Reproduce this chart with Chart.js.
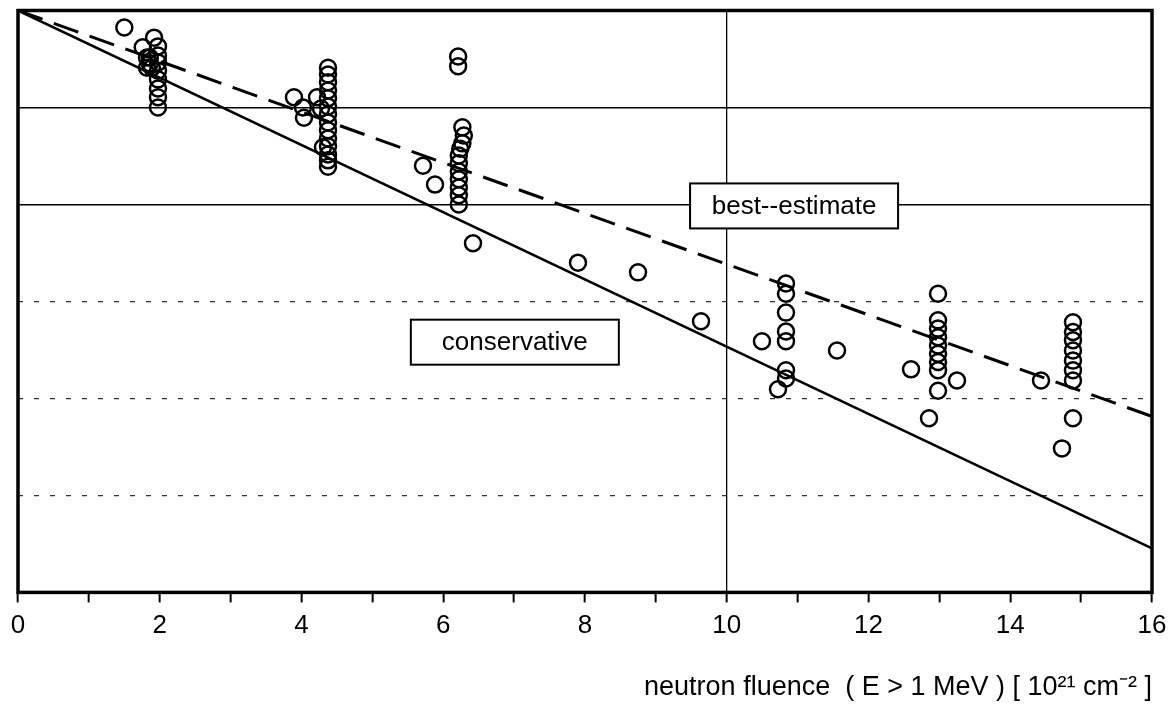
<!DOCTYPE html>
<html>
<head>
<meta charset="utf-8">
<script src="https://cdn.jsdelivr.net/npm/chart.js@4/dist/chart.umd.min.js"></script>
<style>
  html, body { margin: 0; padding: 0; background: #fff; }
  #wrap { width: 1176px; height: 704px; }
</style>
</head>
<body>
<div id="wrap"><canvas id="c" width="1176" height="704"></canvas></div>
<script>
// Measured specimens: neutron fluence (10^21 cm^-2) and property value (relative units)
const fluence = [
  1.50, 1.92, 1.76, 1.975, 1.82, 1.86, 1.975, 1.86, 1.975, 1.82, 1.89, 1.975, 1.975, 1.975, 1.975, 1.975,
  4.374, 4.374, 4.374, 4.374, 4.374, 4.374, 4.374, 4.374, 4.374, 4.374, 4.374, 4.374, 4.374, 4.374,
  3.894, 4.021, 4.035, 4.219, 4.275, 4.303,
  6.21, 6.21, 6.27, 6.29, 6.27, 6.24, 6.22, 6.22, 6.22, 6.22, 6.22, 6.22, 6.22,
  5.714, 5.884, 6.420,
  7.901, 8.748, 9.637,
  10.836, 10.836, 10.836, 10.836, 10.836, 10.836, 10.836, 10.497, 10.723,
  11.556,
  12.981, 12.981, 12.981, 12.981, 12.981, 12.981, 12.981, 12.981, 12.981, 12.600, 13.249, 12.854,
  14.885, 14.885, 14.885, 14.885, 14.885, 14.885, 14.885, 14.885, 14.730, 14.434
];
const values = [
  116.5, 114.4, 112.4, 112.6, 110.3, 110.3, 110.7, 109.1, 109.3, 108.2, 108.2, 107.6, 105.8, 103.9, 102.1, 100.0,
  108.2, 106.8, 105.2, 103.5, 101.9, 100.2, 98.6, 96.9, 95.3, 93.6, 92.0, 90.3, 89.1, 87.8,
  102.1, 100.0, 97.9, 102.1, 99.8, 91.8,
  110.5, 108.5, 95.9, 94.2, 92.6, 91.5, 90.1, 88.5, 86.8, 85.2, 83.5, 81.9, 80.0,
  88.0, 84.1, 72.0,
  68.0, 66.0, 55.9,
  63.7, 61.6, 57.7, 53.8, 51.8, 45.8, 44.1, 51.8, 41.9,
  49.9,
  61.6, 56.1, 54.4, 52.6, 50.9, 49.2, 47.5, 45.8, 41.6, 46.0, 43.7, 35.9,
  55.7, 53.7, 52.0, 49.9, 47.8, 45.8, 43.7, 35.9, 29.7, 43.7
];

// Trend curves (end points)
const conservativeX = [0, 16];
const conservativeY = [120, 9.1];
const bestEstimateX = [0, 16];
const bestEstimateY = [120, 36.3];

// Axis ranges and reference lines
const xRange = [0, 16];
const yRange = [0, 120];
const solidRefLines = [80, 100];
const dashedRefLines = [20, 40, 60];
const fluenceMarker = 10;

// Curve labels
const labelTexts = ['best--estimate', 'conservative'];
const labelX = [10.95, 7.01];
const labelY = [79.7, 51.6];

const FONT = '"Liberation Sans", Arial, Helvetica, sans-serif';

const zip = (xs, ys) => xs.map((x, i) => ({ x, y: ys[i] }));

const frame = {
  id: 'frame',
  afterDraw(chart) {
    const { ctx, chartArea: a } = chart;
    ctx.save();
    ctx.strokeStyle = '#000';
    ctx.lineWidth = 3.5;
    ctx.strokeRect(a.left, a.top, a.right - a.left, a.bottom - a.top);
    ctx.restore();
  }
};

const curveLabels = {
  id: 'curveLabels',
  afterDatasetsDraw(chart) {
    const { ctx } = chart;
    const xs = chart.scales.x, ys = chart.scales.y;
    ctx.save();
    ctx.font = '26px ' + FONT;
    ctx.textAlign = 'center';
    ctx.textBaseline = 'middle';
    labelTexts.forEach((t, i) => {
      const cx = xs.getPixelForValue(labelX[i]);
      const cy = ys.getPixelForValue(labelY[i]);
      const w = 208, h = 45;
      ctx.fillStyle = '#fff';
      ctx.fillRect(cx - w / 2, cy - h / 2, w, h);
      ctx.strokeStyle = '#000';
      ctx.lineWidth = 2;
      ctx.strokeRect(cx - w / 2, cy - h / 2, w, h);
      ctx.fillStyle = '#000';
      ctx.fillText(t, cx, cy + 1);
    });
    ctx.restore();
  }
};

new Chart(document.getElementById('c'), {
  type: 'scatter',
  data: {
    datasets: [
      {
        label: 'specimens',
        data: zip(fluence, values),
        pointStyle: 'circle',
        pointRadius: 8,
        pointBorderWidth: 2.5,
        pointBorderColor: '#000',
        pointBackgroundColor: 'rgba(0,0,0,0)',
        showLine: false
      },
      {
        label: 'conservative',
        data: zip(conservativeX, conservativeY),
        showLine: true,
        borderColor: '#000',
        borderWidth: 2.5,
        pointRadius: 0
      },
      {
        label: 'best-estimate',
        data: zip(bestEstimateX, bestEstimateY),
        showLine: true,
        borderColor: '#000',
        borderWidth: 3,
        borderDash: [26, 12],
        pointRadius: 0
      }
    ]
  },
  options: {
    responsive: false,
    animation: false,
    devicePixelRatio: 1,
    layout: { padding: { left: 18, right: 24, top: 10, bottom: 0 } },
    plugins: { legend: { display: false }, tooltip: { enabled: false } },
    scales: {
      x: {
        type: 'linear',
        min: xRange[0],
        max: xRange[1],
        ticks: {
          stepSize: 1,
          autoSkip: false,
          maxRotation: 0,
          padding: 8,
          color: '#000',
          font: { family: FONT, size: 26 },
          callback: v => (v % 2 === 0 ? String(v) : '')
        },
        grid: {
          color: c => (c.tick && c.tick.value === fluenceMarker ? '#000' : 'rgba(0,0,0,0)'),
          lineWidth: 1.3,
          drawTicks: true,
          tickLength: 10,
          tickColor: '#000',
          tickWidth: 2
        },
        border: { display: false },
        title: {
          display: true,
          align: 'end',
          text: 'neutron fluence  ( E > 1 MeV ) [ 10²¹ cm⁻² ]',
          color: '#000',
          font: { family: FONT, size: 27 },
          padding: { top: 22, bottom: 0 }
        }
      },
      y: {
        type: 'linear',
        min: yRange[0],
        max: yRange[1],
        afterBuildTicks: s => { s.ticks = solidRefLines.map(v => ({ value: v })); },
        ticks: { display: false },
        grid: { color: '#000', lineWidth: 1.5, drawTicks: false },
        border: { display: false }
      },
      y2: {
        type: 'linear',
        position: 'left',
        min: yRange[0],
        max: yRange[1],
        afterBuildTicks: s => { s.ticks = dashedRefLines.map(v => ({ value: v })); },
        ticks: { display: false },
        grid: { color: '#333', lineWidth: 1.3, drawTicks: false },
        border: { display: false, dash: [5, 11] }
      }
    }
  },
  plugins: [frame, curveLabels]
});
</script>
</body>
</html>
